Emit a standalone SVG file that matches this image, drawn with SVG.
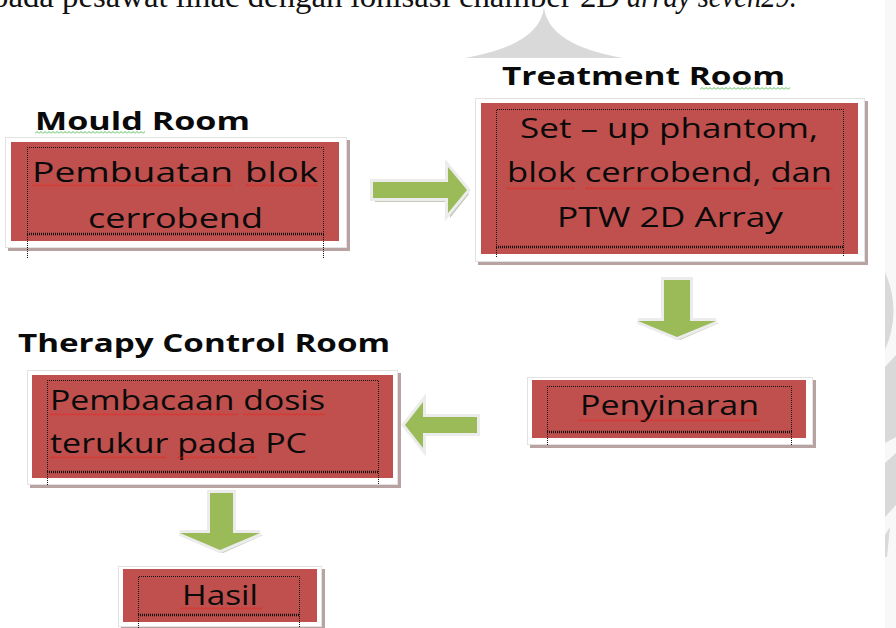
<svg xmlns="http://www.w3.org/2000/svg" width="896" height="628" viewBox="0 0 896 628">
<style>
.title{font-family:"Open Sans","Liberation Sans",sans-serif;font-weight:700;font-size:25px;fill:#0a0a0a}
.lbl{font-family:"Open Sans","Liberation Sans",sans-serif;font-size:27px;fill:#0a0a0a}
.top{font-family:"Liberation Serif","Times New Roman",serif;font-size:31px;fill:#111}
.frame{fill:#fff;stroke:#e2e2e2;stroke-width:1}
.shadow{fill:#b9a2a2}
.red{fill:#c0504d}
.dot{fill:none;stroke:#111;stroke-width:1;stroke-dasharray:1 1}
.dotb{fill:none;stroke:#111;stroke-width:2.5;stroke-dasharray:1 1}
.arrbev{fill:#f2f2f2;stroke:#ececec;stroke-width:6;stroke-linejoin:miter}
.arrsh{fill:#a9b59a;opacity:.7}
.arr{fill:#9bbb59}
.wm{fill:#d9d9d9}
</style>
<defs>
<pattern id="sqR" patternUnits="userSpaceOnUse" width="4" height="3"><polyline points="0,2.5 2,0.5 4,2.5" fill="none" stroke="#e8231f" stroke-width="0.9"/></pattern>
<pattern id="sqG" patternUnits="userSpaceOnUse" width="4" height="3"><polyline points="0,2.5 2,0.5 4,2.5" fill="none" stroke="#3fb53f" stroke-width="0.9"/></pattern>
</defs>
<rect width="896" height="628" fill="#fff"/>
<g id="page">
<rect x="885" y="0" width="11" height="628" fill="#f8f8f8"/>
<path class="wm" d="M465 58 Q540 45 544 7 Q548 45 623 58 Z"/>
<path class="wm" d="M885 272 Q902 311 885 350 Z"/>
<path class="wm" d="M885 367 L896 355 L896 437 L885 443 Z"/>
<path class="wm" d="M885 463 L896 453 L896 505 L885 517 Z"/>
<path class="wm" d="M885 535 L890 527 L887 557 L885 557 Z"/>
<rect x="0" y="58" width="885" height="570" fill="#fff"/>
<text class="top" x="-8" y="7" textLength="628" lengthAdjust="spacingAndGlyphs">pada pesawat linac dengan ionisasi chamber 2D</text>
<text class="top" x="627" y="7" textLength="170" lengthAdjust="spacingAndGlyphs" font-style="italic">array seven29.</text>
</g>

<g id="connectors">
<g id="arrow-mould-treatment">
<polygon class="arrsh" points="375,186 450,186 450,171 469,194 450,218 450,202 375,202"/>
<polygon class="arrbev" points="373,182 448,182 448,167 467,190 448,213 448,198 373,198"/>
<polygon class="arr" points="373,182 448,182 448,167 467,190 448,213 448,198 373,198"/>
</g>
<g id="arrow-treatment-penyinaran">
<polygon class="arrsh" points="667,282 693,282 693,323 719,323 680,340 641,323 667,323"/>
<polygon class="arrbev" points="664,280 690,280 690,321 716,321 677,337 638,321 664,321"/>
<polygon class="arr" points="664,280 690,280 690,321 716,321 677,337 638,321 664,321"/>
</g>
<g id="arrow-penyinaran-therapy">
<polygon class="arrsh" points="480,420 425,420 425,405 407,428 425,452 425,436 480,436"/>
<polygon class="arrbev" points="477,417 423,417 423,402 405,425 423,448 423,433 477,433"/>
<polygon class="arr" points="477,417 423,417 423,402 405,425 423,448 423,433 477,433"/>
</g>
<g id="arrow-therapy-hasil">
<polygon class="arrsh" points="213,495 236,495 236,535 263,535 223,553 183,535 213,535"/>
<polygon class="arrbev" points="210,493 233,493 233,533 260,533 220,550 180,533 210,533"/>
<polygon class="arr" points="210,493 233,493 233,533 260,533 220,550 180,533 210,533"/>
</g>
</g>

<g id="mould-room">
<text class="title" x="35" y="130" textLength="215" lengthAdjust="spacingAndGlyphs">Mould Room</text>
<g transform="translate(35,131)"><rect width="110" height="3" fill="url(#sqG)"/></g>
<rect class="shadow" x="8" y="140" width="342" height="111"/>
<rect class="frame" x="5.5" y="137.5" width="341" height="110"/>
<rect class="red" x="11" y="142" width="328" height="99"/>
<path class="dot" d="M27.5 258 V147.5 H323.5 V258"/>
<line class="dotb" x1="27" y1="234" x2="324" y2="234"/>
<text class="lbl" x="32" y="182" textLength="201" lengthAdjust="spacingAndGlyphs">Pembuatan</text>
<text class="lbl" x="245" y="182" textLength="73" lengthAdjust="spacingAndGlyphs">blok</text>
<text class="lbl" x="88" y="228" textLength="175" lengthAdjust="spacingAndGlyphs">cerrobend</text>
<g transform="translate(32,184)"><rect width="201" height="3" fill="url(#sqR)"/></g>
<g transform="translate(245,184)"><rect width="73" height="3" fill="url(#sqR)"/></g>
</g>

<g id="treatment-room">
<text class="title" x="502" y="85" textLength="283" lengthAdjust="spacingAndGlyphs">Treatment Room</text>
<g transform="translate(700,87)"><rect width="90" height="3" fill="url(#sqG)"/></g>
<rect class="shadow" x="478" y="101" width="390" height="164"/>
<rect class="frame" x="475.5" y="98.5" width="389" height="163"/>
<rect class="red" x="481" y="103" width="377" height="151"/>
<path class="dot" d="M496.5 257 V109.5 H843.5 V257"/>
<line class="dotb" x1="496" y1="247" x2="844" y2="247"/>
<text class="lbl" x="520" y="138" textLength="298" lengthAdjust="spacingAndGlyphs">Set – up phantom,</text>
<text class="lbl" x="507" y="182" textLength="325" lengthAdjust="spacingAndGlyphs">blok cerrobend, dan</text>
<text class="lbl" x="557" y="227" textLength="226" lengthAdjust="spacingAndGlyphs">PTW 2D Array</text>
<g transform="translate(507,187)"><rect width="68" height="3" fill="url(#sqR)"/></g>
<g transform="translate(585,187)"><rect width="165" height="3" fill="url(#sqR)"/></g>
<g transform="translate(772,187)"><rect width="61" height="3" fill="url(#sqR)"/></g>
</g>

<g id="penyinaran">
<rect class="shadow" x="530" y="380" width="286" height="68"/>
<rect class="frame" x="527.5" y="377.5" width="285" height="67"/>
<rect class="red" x="532" y="380" width="274" height="58"/>
<path class="dot" d="M547.5 445 V386.5 H791.5 V445"/>
<line class="dotb" x1="547" y1="432" x2="792" y2="432"/>
<text class="lbl" x="580" y="415" textLength="179" lengthAdjust="spacingAndGlyphs">Penyinaran</text>
<g transform="translate(578,419)"><rect width="182" height="3" fill="url(#sqR)"/></g>
</g>

<g id="therapy-control-room">
<text class="title" x="18" y="352" textLength="372" lengthAdjust="spacingAndGlyphs">Therapy Control Room</text>
<rect class="shadow" x="30" y="373" width="371" height="115"/>
<rect class="frame" x="27.5" y="370.5" width="370" height="114"/>
<rect class="red" x="32" y="375" width="361" height="103"/>
<path class="dot" d="M47.5 485 V380.5 H378.5 V485"/>
<line class="dotb" x1="47" y1="472" x2="379" y2="472"/>
<text class="lbl" x="50" y="410" textLength="275" lengthAdjust="spacingAndGlyphs">Pembacaan dosis</text>
<text class="lbl" x="50" y="453" textLength="257" lengthAdjust="spacingAndGlyphs">terukur pada PC</text>
<g transform="translate(50,413)"><rect width="188" height="3" fill="url(#sqR)"/></g>
<g transform="translate(243,413)"><rect width="82" height="3" fill="url(#sqR)"/></g>
<g transform="translate(50,456)"><rect width="117" height="3" fill="url(#sqR)"/></g>
<g transform="translate(177,456)"><rect width="80" height="3" fill="url(#sqR)"/></g>
</g>

<g id="hasil">
<rect class="shadow" x="121" y="569" width="204" height="61"/>
<rect class="frame" x="118.5" y="566.5" width="203" height="60"/>
<rect class="red" x="123" y="569" width="194" height="53"/>
<path class="dot" d="M138.5 628 V576.5 H299.5 V628"/>
<line class="dotb" x1="138" y1="615" x2="300" y2="615"/>
<text class="lbl" x="182" y="605" textLength="76" lengthAdjust="spacingAndGlyphs">Hasil</text>
<g transform="translate(180,607)"><rect width="82" height="3" fill="url(#sqR)"/></g>
</g>
</svg>
